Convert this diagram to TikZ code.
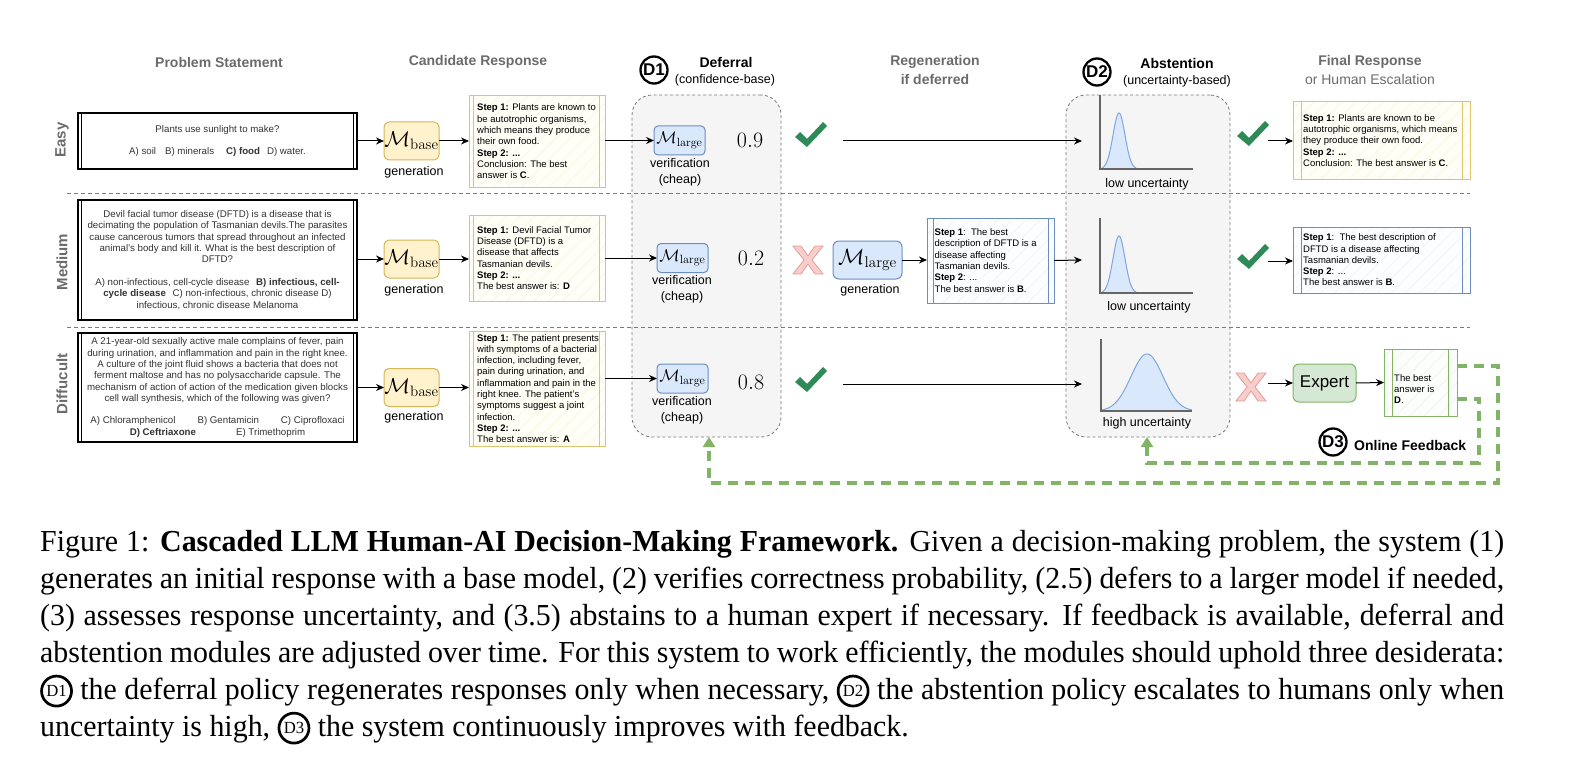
\RequirePackage{fix-cm}
\documentclass[tikz,border=0pt]{standalone}
\usepackage[no-math]{fontspec}
\setmainfont{Liberation Sans}
\newfontfamily\capfont[FakeStretch=0.98]{Liberation Serif}
\usetikzlibrary{arrows.meta,patterns.meta,calc}

\definecolor{hdrgray}{HTML}{6B6B6B}
\definecolor{ylfill}{HTML}{FFF2CC}
\definecolor{yldraw}{HTML}{D6B656}
\definecolor{candfill}{HTML}{FFFEF7}
\definecolor{canddraw}{HTML}{DCC56C}
\definecolor{candhatch}{HTML}{FAF5E2}
\definecolor{blfill}{HTML}{DAE8FC}
\definecolor{bldraw}{HTML}{6C8EBF}
\definecolor{blhatch}{HTML}{F1F5FA}
\definecolor{regfill}{HTML}{FCFDFE}
\definecolor{gnfill}{HTML}{D5E8D4}
\definecolor{gndraw}{HTML}{82B366}
\definecolor{gnhatch}{HTML}{EEF5EC}
\definecolor{docfill}{HTML}{FCFEFB}
\definecolor{boxgray}{HTML}{F5F5F5}
\definecolor{dashgray}{HTML}{7A7A7A}
\definecolor{chk}{HTML}{2E8B57}
\definecolor{xfill}{HTML}{F8CECC}
\definecolor{xdraw}{HTML}{E39C98}
\definecolor{curve}{HTML}{7EA6E0}
\definecolor{axisc}{HTML}{666666}
\definecolor{ptext}{HTML}{333333}

\newcommand\capD[1]{\tikz[baseline={([yshift=-2.7pt]cd.base)},x=1pt,y=1pt]\node[circle,draw=black,line width=2.7pt,inner sep=0pt,minimum size=30pt,font=\capfont\fontsize{17}{17}\selectfont] (cd) {#1};}
\newcommand\pbars[4]{%
  \draw[#4] ([xshift=#2]#1.north west) -- ([xshift=#2]#1.south west);
  \draw[#4] ([xshift=-#3]#1.north east) -- ([xshift=-#3]#1.south east);}

\tikzset{
  hdr/.style={font=\bfseries\fontsize{14}{17}\selectfont, text=hdrgray, inner sep=0pt},
  hdrk/.style={font=\bfseries\fontsize{14}{17}\selectfont, text=black, inner sep=0pt},
  subhdr/.style={font=\fontsize{12.5}{15}\selectfont, inner sep=0pt},
  subgray/.style={font=\fontsize{14}{17}\selectfont, text=hdrgray, inner sep=0pt},
  rowlbl/.style={font=\bfseries\fontsize{15}{18}\selectfont, text=hdrgray, rotate=90, inner sep=0pt},
  probbox/.style={draw=black, line width=1.3pt, outer sep=0pt, inner sep=0pt, align=center, text=ptext, font=\fontsize{9.7}{11.3}\selectfont, fill=white},
  stxt/.style={font=\fontsize{9.5}{11.3}\selectfont, align=left, inner sep=0pt, anchor=west},
  candbox/.style={draw=canddraw, line width=1pt, outer sep=0pt, inner sep=0pt, preaction={fill=candfill}, pattern={Lines[angle=45,distance=10pt,line width=0.7pt]}, pattern color=candhatch},
  regbox/.style={draw=bldraw, line width=1pt, outer sep=0pt, inner sep=0pt, preaction={fill=regfill}, pattern={Lines[angle=45,distance=10pt,line width=0.7pt]}, pattern color=blhatch},
  docbox/.style={draw=gndraw, line width=1pt, outer sep=0pt, inner sep=0pt, preaction={fill=docfill}, pattern={Lines[angle=45,distance=10pt,line width=0.7pt]}, pattern color=gnhatch},
  mbase/.style={draw=yldraw, fill=ylfill, rounded corners=5pt, line width=1pt, inner sep=0pt, outer sep=0pt, minimum width=55pt, minimum height=38pt, font=\fontsize{21.5}{24}\selectfont},
  mlarge/.style={draw=bldraw, fill=blfill, rounded corners=4pt, line width=1pt, inner sep=0pt, outer sep=0pt, minimum width=51pt, minimum height=29pt, font=\fontsize{17}{20}\selectfont},
  mlargebig/.style={draw=bldraw, fill=blfill, rounded corners=6pt, line width=1pt, inner sep=0pt, outer sep=0pt, minimum width=69pt, minimum height=38pt, font=\fontsize{22}{24}\selectfont},
  expertbox/.style={draw=gndraw, fill=gnfill, rounded corners=6pt, line width=1pt, inner sep=0pt, outer sep=0pt, minimum width=63pt, minimum height=38pt, font=\fontsize{17}{20}\selectfont},
  lbl/.style={font=\fontsize{12.5}{15.5}\selectfont, inner sep=0pt, align=center},
  numtxt/.style={font=\fontsize{22}{24}\selectfont, inner sep=0pt},
  graybox/.style={draw=dashgray, fill=boxgray, dash pattern=on 3pt off 2.5pt, line width=0.8pt, rounded corners=20pt, outer sep=0pt, inner sep=0pt},
  sepline/.style={draw=dashgray, line width=0.8pt, dash pattern=on 4pt off 3pt},
  conn/.style={draw=black, line width=1pt, -{Stealth[length=8pt,width=7pt]}},
  fbarr/.style={draw=gndraw, line width=3.5pt, dash pattern=on 10pt off 7pt, -{Triangle[length=10pt,width=12pt]}},
  dcirc/.style={circle, draw=black, line width=2.3pt, minimum size=27pt, inner sep=0pt, font=\bfseries\fontsize{17}{17}\selectfont},
  axisln/.style={draw=axisc, line width=1.6pt},
  bellline/.style={draw=curve, line width=1pt},
  chkmark/.pic={\fill[chk] (-16,2) -- (-11,-3) -- (-4,4) -- (12,-13) -- (16,-9) -- (-4,12) -- cycle;},
  xmark/.pic={\filldraw[fill=xfill, draw=xdraw, line width=0.8pt] (-15,-14) -- (-7,-14) -- (0,-4) -- (7,-14) -- (15,-14) -- (4,0) -- (15,14) -- (7,14) -- (0,4) -- (-7,14) -- (-15,14) -- (-4,0) -- cycle;}
}

\begin{document}
\begin{tikzpicture}[x=1pt,y=-1pt]
\useasboundingbox (0,0) rectangle (1569,765);

% ---------- gray module boxes ----------
\node[graybox, minimum width=149pt, minimum height=342pt] (defbox) at (706.5,266) {};
\node[graybox, minimum width=164pt, minimum height=342pt] (absbox) at (1148,266) {};

% ---------- separators ----------
\draw[sepline] (67,193) -- (1470,193);
\draw[sepline] (67,327) -- (1470,327);

% ---------- headers ----------
\node[hdr] (h1) at (219,62) {Problem Statement};
\node[hdr] (h2) at (478,62) {Candidate Response};
\node[dcirc] (dc1) at (654,70) {D1};
\node[hdrk] (h3) at (726,62) {Deferral};
\node[subhdr] (h3b) at (725,80) {(confidence-base)};
\node[hdr] (h4) at (935,62) {Regeneration};
\node[hdr] (h4b) at (935,79) {if deferred};
\node[dcirc] (dc2) at (1097,72) {D2};
\node[hdrk] (h5) at (1177,63) {Abstention};
\node[subhdr] (h5b) at (1177,81) {(uncertainty-based)};
\node[hdr] (h6) at (1370,62) {Final Response};
\node[subgray] (h6b) at (1370,79) {or Human Escalation};

% ---------- row labels ----------
\node[rowlbl] (rl1) at (62,140) {Easy};
\node[rowlbl] (rl2) at (62,262) {Medium};
\node[rowlbl] (rl3) at (62,384) {Diffucult};

% ================= EASY =================
\node[probbox, minimum width=279pt, minimum height=56pt] (p1) at (217.5,141)
  {Plants use sunlight to make?\\[10.7pt]A) soil\hspace{9pt}B) minerals\hspace{12pt}\textbf{C) food}\hspace{7pt}D) water.};
\pbars{p1}{3.5pt}{3.5pt}{draw=black,line width=1.3pt}
\node[mbase] (mb1) at (411.5,141) {$\mathcal{M}_{\mathrm{base}}$};
\node[lbl] (g1) at (414,172) {generation};
\node[candbox, minimum width=136pt, minimum height=91pt] (c1) at (537,141.5) {};
\pbars{c1}{4pt}{6pt}{draw=canddraw,line width=1pt}
\node[stxt] (c1t) at ([xshift=8pt]c1.west) {\textbf{Step 1:} Plants are known to\\be autotrophic organisms,\\which means they produce\\their own food.\\\textbf{Step 2: ...}\\Conclusion: The best\\answer is \textbf{C}.};
\node[mlarge] (ml1) at (679.5,140.5) {$\mathcal{M}_{\mathrm{large}}$};
\node[lbl] (v1) at (680,172.5) {verification\\(cheap)};
\node[numtxt] (n1) at (750,140) {$0.9$};
\pic at (811,135) {chkmark};
\coordinate (a1s) at (843,141);
\coordinate (a1e) at (1082,141);
\pic at (1253,134) {chkmark};
\coordinate (b1s) at (1268,141);
\node[candbox, minimum width=177pt, minimum height=77pt] (f1) at (1381.5,140.5) {};
\pbars{f1}{8pt}{8pt}{draw=canddraw,line width=1pt}
\node[stxt] (f1t) at ([xshift=10pt]f1.west) {\textbf{Step 1:} Plants are known to be\\autotrophic organisms, which means\\they produce their own food.\\\textbf{Step 2: ...}\\Conclusion: The best answer is \textbf{C}.};

% easy plot
\fill[blfill] plot[domain=-17:17,samples=41,smooth] ({1119+\x},{169-56*exp(-(\x*\x)/72)}) -- cycle;
\draw[bellline] plot[domain=-17:17,samples=41,smooth] ({1119+\x},{169-56*exp(-(\x*\x)/72)});
\draw[axisln] (1100,95) -- (1100,169) -- (1193,169);
\node[lbl] (u1) at (1147,184) {low uncertainty};

\draw[conn] (p1.east |- mb1.west) -- (mb1.west);
\draw[conn] (mb1.east) -- (mb1.east -| c1.west);
\draw[conn] (c1.east |- ml1.west) -- (ml1.west);
\draw[conn] (a1s) -- (a1e);
\draw[conn] (b1s) -- (f1.west |- b1s);

% ================= MEDIUM =================
\node[probbox, minimum width=279pt, minimum height=120pt] (p2) at (217.5,260)
  {Devil facial tumor disease (DFTD) is a disease that is\\decimating the population of Tasmanian devils.The parasites\\cause cancerous tumors that spread throughout an infected\\animal's body and kill it. What is the best description of\\DFTD?\\[11.3pt]A) non-infectious, cell-cycle disease\hspace{4pt} \textbf{B) infectious, cell-}\\\textbf{cycle disease}\hspace{4pt} C) non-infectious, chronic disease D)\\infectious, chronic disease Melanoma};
\pbars{p2}{3.5pt}{3.5pt}{draw=black,line width=1.3pt}
\node[mbase] (mb2) at (411.5,259) {$\mathcal{M}_{\mathrm{base}}$};
\node[lbl] (g2) at (414,290) {generation};
\node[candbox, minimum width=136pt, minimum height=86pt] (c2) at (537,258) {};
\pbars{c2}{4pt}{6pt}{draw=canddraw,line width=1pt}
\node[stxt] (c2t) at ([xshift=8pt]c2.west) {\textbf{Step 1:} Devil Facial Tumor\\Disease (DFTD) is a\\disease that affects\\Tasmanian devils.\\\textbf{Step 2: ...}\\The best answer is: \textbf{D}};
\node[mlarge] (ml2) at (682.5,258) {$\mathcal{M}_{\mathrm{large}}$};
\node[lbl] (v2) at (682,289.5) {verification\\(cheap)};
\node[numtxt] (n2) at (751,258) {$0.2$};
\pic at (808,260) {xmark};
\node[mlargebig] (mL2) at (867.5,260) {$\mathcal{M}_{\mathrm{large}}$};
\node[lbl] (g2b) at (870,290) {generation};
\node[regbox, minimum width=127pt, minimum height=85pt] (r2) at (990.5,260.5) {};
\pbars{r2}{6pt}{6pt}{draw=bldraw,line width=1pt}
\node[stxt] (r2t) at ([xshift=7.5pt]r2.west) {\textbf{Step 1}:\ \ The best\\description of DFTD is a\\disease affecting\\Tasmanian devils.\\\textbf{Step 2}: ...\\The best answer is \textbf{B}.};
\coordinate (a2e) at (1082,260);
\pic at (1253,257) {chkmark};
\coordinate (b2s) at (1268,261);
\node[regbox, minimum width=177pt, minimum height=66pt] (f2) at (1381.5,260) {};
\pbars{f2}{8pt}{8pt}{draw=bldraw,line width=1pt}
\node[stxt] (f2t) at ([xshift=10pt]f2.west) {\textbf{Step 1}:\ \ The best description of\\DFTD is a disease affecting\\Tasmanian devils.\\\textbf{Step 2}: ...\\The best answer is \textbf{B}.};

% medium plot
\fill[blfill] plot[domain=-17:17,samples=41,smooth] ({1119+\x},{293-57*exp(-(\x*\x)/72)}) -- cycle;
\draw[bellline] plot[domain=-17:17,samples=41,smooth] ({1119+\x},{293-57*exp(-(\x*\x)/72)});
\draw[axisln] (1100,218) -- (1100,293) -- (1193,293);
\node[lbl] (u2) at (1149,307) {low uncertainty};

\draw[conn] (p2.east |- mb2.west) -- (mb2.west);
\draw[conn] (mb2.east) -- (mb2.east -| c2.west);
\draw[conn] (c2.east |- ml2.west) -- (ml2.west);
\draw[conn] (mL2.east) -- (mL2.east -| r2.west);
\draw[conn] (r2.east) -- (a2e);
\draw[conn] (b2s) -- (f2.west |- b2s);

% ================= DIFFICULT =================
\node[probbox, minimum width=279pt, minimum height=109pt] (p3) at (217.5,387.5)
  {A 21-year-old sexually active male complains of fever, pain\\during urination, and inflammation and pain in the right knee.\\A culture of the joint fluid shows a bacteria that does not\\ferment maltose and has no polysaccharide capsule. The\\mechanism of action of action of the medication given blocks\\cell wall synthesis, which of the following was given?\\[11.3pt]A) Chloramphenicol\hspace{22pt}B) Gentamicin\hspace{22pt}C) Ciprofloxaci\\\textbf{D) Ceftriaxone}\hspace{40pt}E) Trimethoprim};
\pbars{p3}{3.5pt}{3.5pt}{draw=black,line width=1.3pt}
\node[mbase] (mb3) at (411.5,387.5) {$\mathcal{M}_{\mathrm{base}}$};
\node[lbl] (g3) at (414,417) {generation};
\node[candbox, minimum width=136pt, minimum height=115pt] (c3) at (537,388.5) {};
\pbars{c3}{4pt}{6pt}{draw=canddraw,line width=1pt}
\node[stxt] (c3t) at ([xshift=8pt]c3.west) {\textbf{Step 1:} The patient presents\\with symptoms of a bacterial\\infection, including fever,\\pain during urination, and\\inflammation and pain in the\\right knee. The patient's\\symptoms suggest a joint\\infection.\\\textbf{Step 2: ...}\\The best answer is: \textbf{A}};
\node[mlarge] (ml3) at (682.5,378.5) {$\mathcal{M}_{\mathrm{large}}$};
\node[lbl] (v3) at (682,410.5) {verification\\(cheap)};
\node[numtxt] (n3) at (751,382) {$0.8$};
\pic at (811,380) {chkmark};
\coordinate (a3s) at (843,384);
\coordinate (a3e) at (1082,384);
\pic at (1251,387) {xmark};
\coordinate (b3s) at (1268,383);
\node[expertbox] (ex) at (1324.5,383) {Expert};
\node[docbox, minimum width=73pt, minimum height=67pt] (d3) at (1420.5,382.5) {};
\pbars{d3}{8pt}{9pt}{draw=gndraw,line width=1pt}
\node[stxt] (d3t) at (1394,389) {The best\\answer is\\\textbf{D}.};

% difficult plot
\fill[blfill] plot[domain=-45:45,samples=61,smooth] ({1147+\x},{411-57*exp(-(\x*\x)/512)}) -- cycle;
\draw[bellline] plot[domain=-45:45,samples=61,smooth] ({1147+\x},{411-57*exp(-(\x*\x)/512)});
\draw[axisln] (1101,339) -- (1101,411) -- (1192,411);
\node[lbl] (u3) at (1147,423) {high uncertainty};

\draw[conn] (p3.east |- mb3.west) -- (mb3.west);
\draw[conn] (mb3.east) -- (mb3.east -| c3.west);
\draw[conn] (c3.east |- ml3.west) -- (ml3.west);
\draw[conn] (a3s) -- (a3e);
\draw[conn] (b3s) -- (ex.west);
\draw[conn] (ex.east) -- (d3.west);

% ---------- online feedback ----------
\node[dcirc] (dc3) at (1333,442) {D3};
\node[font=\bfseries\fontsize{14}{17}\selectfont, inner sep=0pt, anchor=west] (ofb) at (1354,445) {Online Feedback};
\coordinate (fbo1) at (1498,366);
\coordinate (fbo2) at (1498,483);
\coordinate (fbo3) at (709,483);
\draw[fbarr] (d3.east |- fbo1) -- (fbo1) -- (fbo2) -- (fbo3) -- (fbo3 |- defbox.south);
\coordinate (fbi1) at (1479,399);
\coordinate (fbi2) at (1479,463);
\coordinate (fbi3) at (1147,463);
\draw[fbarr] (d3.east |- fbi1) -- (fbi1) -- (fbi2) -- (fbi3) -- (fbi3 |- absbox.south);

% ---------- caption ----------
\node[anchor=north west, inner sep=0pt, text width=1464pt, align=justify, font=\capfont\fontsize{30.5}{37}\selectfont] (cap) at (40,530)
{Figure 1: \textbf{Cascaded LLM Human-AI Decision-Making Framework.} Given a decision-making problem, the system (1)\linebreak
generates an initial response with a base model, (2) verifies correctness probability, (2.5) defers to a larger model if needed,\linebreak
(3) assesses response uncertainty, and (3.5) abstains to a human expert if necessary. If feedback is available, deferral and\linebreak
abstention modules are adjusted over time. For this system to work efficiently, the modules should uphold three desiderata:\linebreak
\capD{D1} the deferral policy regenerates responses only when necessary, \capD{D2} the abstention policy escalates to humans only when\linebreak
uncertainty is high, \capD{D3} the system continuously improves with feedback.};
\end{tikzpicture}
\end{document}
